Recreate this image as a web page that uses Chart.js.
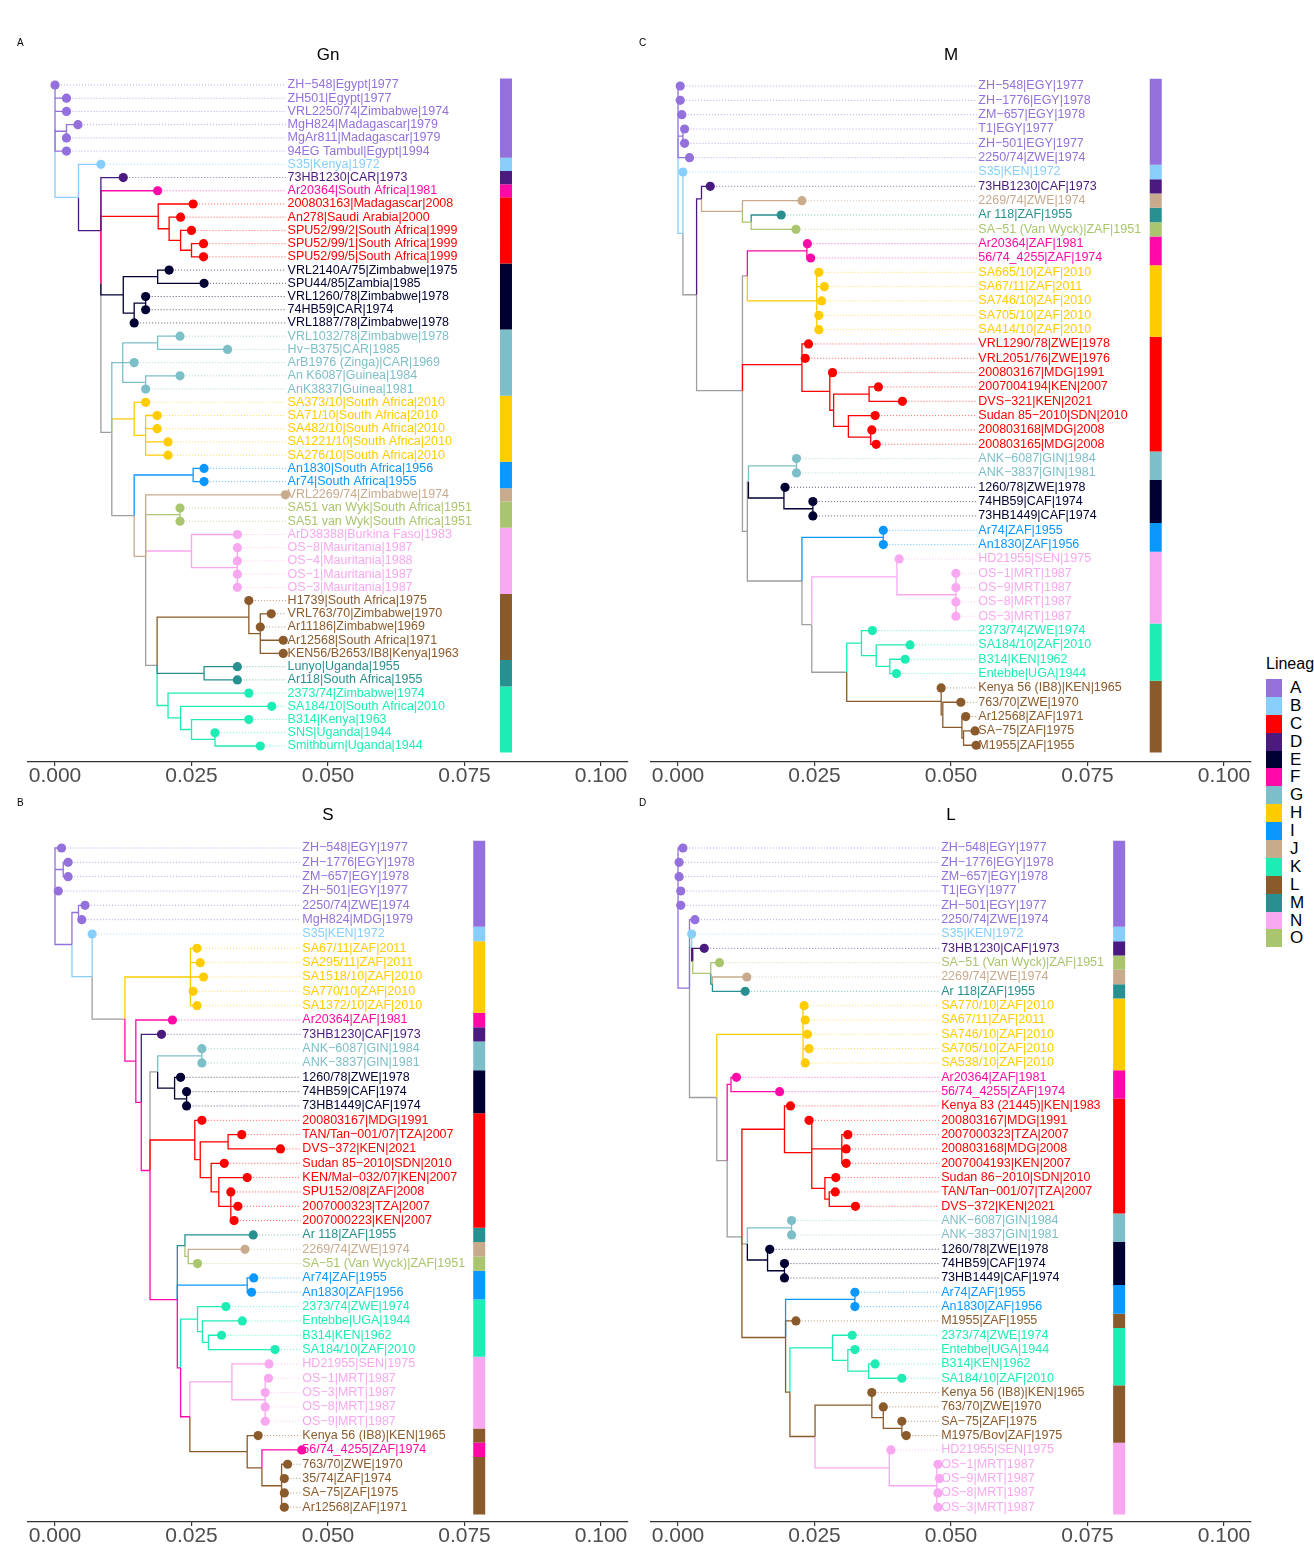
<!DOCTYPE html>
<html>
<head>
<meta charset="utf-8">
<script src="https://cdn.jsdelivr.net/npm/chart.js@4.4.1/dist/chart.umd.min.js"></script>
<style>
  body { margin: 0; background: #fff; }
  #page { position: relative; width: 1314px; height: 1546px; overflow: hidden; background: #fff;
          font-family: "Liberation Sans", Arial, sans-serif; }
  #page canvas { position: absolute; }
  .tag { position: absolute; font-size: 10px; color: #000; }
  #legend { position: absolute; left: 1266px; top: 655px; white-space: nowrap; }
  #legend .lt { font-size: 16px; color: #000; margin-bottom: 6px; }
  #legend .key { height: 17.9px; display: flex; align-items: center; }
  #legend .sw { width: 16px; height: 17.9px; margin-right: 8px; }
  #legend .lb { font-size: 17px; color: #000; }
</style>
</head>
<body>
<div id="page">
  <canvas id="cGn" width="640" height="800" style="left:0;top:0"></canvas>
  <canvas id="cM" width="640" height="800" style="left:623px;top:0"></canvas>
  <canvas id="cS" width="640" height="800" style="left:0;top:760px"></canvas>
  <canvas id="cL" width="640" height="800" style="left:623px;top:760px"></canvas>
  <div class="tag" style="left:17px;top:37px">A</div>
  <div class="tag" style="left:639px;top:37px">C</div>
  <div class="tag" style="left:17px;top:797px">B</div>
  <div class="tag" style="left:639px;top:797px">D</div>
  <div id="legend"><div class="lt">Lineage</div><div id="keys"></div></div>
</div>
<script>
// Lineages
const lineageNames = ['A', 'B', 'C', 'D', 'E', 'F', 'G', 'H', 'I', 'J', 'K', 'L', 'M', 'N', 'O'];
const lineageColors = ['#9370DB', '#87CEFA', '#FF0000', '#4B1A80', '#000033', '#FF0AA8', '#7DBFC8',
    '#FFCC00', '#0A98FF', '#C8AA8C', '#1DEDB5', '#8B5A2B', '#289090', '#F8A8F0', '#A9C56E'];

// Axis
const xTicks = [0, 0.025, 0.05, 0.075, 0.1];
const xTickLabels = ['0.000', '0.025', '0.050', '0.075', '0.100'];

// Panel A : Gn
const gnLabels = ['ZH−548|Egypt|1977', 'ZH501|Egypt|1977', 'VRL2250/74|Zimbabwe|1974', 'MgH824|Madagascar|1979',
    'MgAr811|Madagascar|1979', '94EG Tambul|Egypt|1994', 'S35|Kenya|1972', '73HB1230|CAR|1973',
    'Ar20364|South Africa|1981', '200803163|Madagascar|2008', 'An278|Saudi Arabia|2000',
    'SPU52/99/2|South Africa|1999', 'SPU52/99/1|South Africa|1999', 'SPU52/99/5|South Africa|1999',
    'VRL2140A/75|Zimbabwe|1975', 'SPU44/85|Zambia|1985', 'VRL1260/78|Zimbabwe|1978', '74HB59|CAR|1974',
    'VRL1887/78|Zimbabwe|1978', 'VRL1032/78|Zimbabwe|1978', 'Hv−B375|CAR|1985', 'ArB1976 (Zinga)|CAR|1969',
    'An K6087|Guinea|1984', 'AnK3837|Guinea|1981', 'SA373/10|South Africa|2010', 'SA71/10|South Africa|2010',
    'SA482/10|South Africa|2010', 'SA1221/10|South Africa|2010', 'SA276/10|South Africa|2010',
    'An1830|South Africa|1956', 'Ar74|South Africa|1955', 'VRL2269/74|Zimbabwe|1974',
    'SA51 van Wyk|South Africa|1951', 'SA51 van Wyk|South Africa|1951', 'ArD38388|Burkina Faso|1983',
    'OS−8|Mauritania|1987', 'OS−4|Mauritania|1988', 'OS−1|Mauritania|1987', 'OS−3|Mauritania|1987',
    'H1739|South Africa|1975', 'VRL763/70|Zimbabwe|1970', 'Ar11186|Zimbabwe|1969', 'Ar12568|South Africa|1971',
    'KEN56/B2653/IB8|Kenya|1963', 'Lunyo|Uganda|1955', 'Ar118|South Africa|1955', '2373/74|Zimbabwe|1974',
    'SA184/10|South Africa|2010', 'B314|Kenya|1963', 'SNS|Uganda|1944', 'Smithburn|Uganda|1944'];
const gnLineage = 'AAAAAABDFCCCCCEEEEEGGGGGHHHHHIIJOONNNNNLLLLLMMKKKKK'.split('');
const gnTipX = [0.0000, 0.0021, 0.0021, 0.0042, 0.0021, 0.0021, 0.0084, 0.0125, 0.0188, 0.0253,
    0.0230, 0.0250, 0.0272, 0.0272, 0.0209, 0.0273, 0.0166, 0.0166, 0.0145, 0.0229,
    0.0316, 0.0145, 0.0229, 0.0166, 0.0166, 0.0187, 0.0187, 0.0207, 0.0207, 0.0273,
    0.0273, 0.0422, 0.0229, 0.0229, 0.0334, 0.0334, 0.0334, 0.0334, 0.0334, 0.0355,
    0.0396, 0.0376, 0.0418, 0.0418, 0.0334, 0.0334, 0.0355, 0.0397, 0.0355, 0.0293, 0.0376];
// node = [node depth, ...children]; a number is a tip row
const gnTree = [0.0000, 1, 2, 3, [0.0021, 4, 5], 6,
  [0.0043, 7,
    [0.0084, 8,
      [0.0084, 9,
        [0.0189, 10, [0.0209, 11, [0.0230, 12, [0.0250, 13, 14]]]],
        [0.0125, [0.0188, 15, 16], [0.0145, [0.0166, 17, 18], 19]],
        [0.0104,
          [0.0124, [0.0188, 20, 21], 22, [0.0166, 23, 24]],
          [0.0145, 25, [0.0166, 26, 27, 28, 29]],
          [0.0145,
            [0.0253, 30, 31],
            [0.0166, 32,
              [0.0229, 33, 34],
              [0.0250, 35, [0.0334, 36, 37, 38, 39]],
              [0.0187,
                [0.0355, 40, [0.0376, 41, 42, 43, 44]],
                [0.0273, 45, 46],
                [0.0207, 47, [0.0230, 48, [0.0250, 49, [0.0293, 50, 51]]]]]]]]]]]];

// Panel C : M
const mLabels = ['ZH−548|EGY|1977', 'ZH−1776|EGY|1978', 'ZM−657|EGY|1978', 'T1|EGY|1977', 'ZH−501|EGY|1977',
    '2250/74|ZWE|1974', 'S35|KEN|1972', '73HB1230|CAF|1973', '2269/74|ZWE|1974', 'Ar 118|ZAF|1955',
    'SA−51 (Van Wyck)|ZAF|1951', 'Ar20364|ZAF|1981', '56/74_4255|ZAF|1974', 'SA665/10|ZAF|2010',
    'SA67/11|ZAF|2011', 'SA746/10|ZAF|2010', 'SA705/10|ZAF|2010', 'SA414/10|ZAF|2010', 'VRL1290/78|ZWE|1978',
    'VRL2051/76|ZWE|1976', '200803167|MDG|1991', '2007004194|KEN|2007', 'DVS−321|KEN|2021',
    'Sudan 85−2010|SDN|2010', '200803168|MDG|2008', '200803165|MDG|2008', 'ANK−6087|GIN|1984',
    'ANK−3837|GIN|1981', '1260/78|ZWE|1978', '74HB59|CAF|1974', '73HB1449|CAF|1974', 'Ar74|ZAF|1955',
    'An1830|ZAF|1956', 'HD21955|SEN|1975', 'OS−1|MRT|1987', 'OS−9|MRT|1987', 'OS−8|MRT|1987', 'OS−3|MRT|1987',
    '2373/74|ZWE|1974', 'SA184/10|ZAF|2010', 'B314|KEN|1962', 'Entebbe|UGA|1944', 'Kenya 56 (IB8)|KEN|1965',
    '763/70|ZWE|1970', 'Ar12568|ZAF|1971', 'SA−75|ZAF|1975', 'M1955|ZAF|1955'];
const mLineage = 'AAAAAABDJMOFFHHHHHCCCCCCCCGGEEEIINNNNNKKKKLLLLL'.split('');
const mTipX = [0.0004, 0.0004, 0.0007, 0.0012, 0.0012, 0.0021, 0.0009, 0.0059, 0.0227, 0.0189,
    0.0216, 0.0237, 0.0243, 0.0258, 0.0268, 0.0263, 0.0258, 0.0258, 0.0239, 0.0233,
    0.0283, 0.0367, 0.0411, 0.0361, 0.0355, 0.0363, 0.0217, 0.0217, 0.0196, 0.0247,
    0.0247, 0.0376, 0.0376, 0.0405, 0.0509, 0.0509, 0.0509, 0.0509, 0.0356, 0.0425,
    0.0416, 0.0400, 0.0482, 0.0518, 0.0527, 0.0544, 0.0546];
const mTree = [0.0000, 1, 2, 3, [0.0009, 4, 5], 6,
  [0.0009, 7,
    [0.0034,
      [0.0043, 8, [0.0118, 9, [0.0134, 10, 11]]],
      [0.0118,
        [0.0127, [0.0236, 12, 13], [0.0254, 14, 15, 16, 17, 18]],
        [0.0227, 19, 20, [0.0278, 21, [0.0285, [0.0350, 22, 23], [0.0312, 24, [0.0353, 25, 26]]]]],
        [0.0127,
          [0.0129, [0.0217, 27, 28], [0.0194, 29, [0.0247, 30, 31]]],
          [0.0227,
            [0.0376, 32, 33],
            [0.0245,
              [0.0401, 34, [0.0509, 35, 36, 37, 38]],
              [0.0309,
                [0.0336, 39, [0.0363, 40, [0.0388, 41, 42]]],
                [0.0482, 43, [0.0485, 44, [0.0520, 45, [0.0523, 46, 47]]]]]]]]]]]];

// Panel B : S
const sLabels = ['ZH−548|EGY|1977', 'ZH−1776|EGY|1978', 'ZM−657|EGY|1978', 'ZH−501|EGY|1977', '2250/74|ZWE|1974',
    'MgH824|MDG|1979', 'S35|KEN|1972', 'SA67/11|ZAF|2011', 'SA295/11|ZAF|2011', 'SA1518/10|ZAF|2010',
    'SA770/10|ZAF|2010', 'SA1372/10|ZAF|2010', 'Ar20364|ZAF|1981', '73HB1230|CAF|1973', 'ANK−6087|GIN|1984',
    'ANK−3837|GIN|1981', '1260/78|ZWE|1978', '74HB59|CAF|1974', '73HB1449|CAF|1974', '200803167|MDG|1991',
    'TAN/Tan−001/07|TZA|2007', 'DVS−372|KEN|2021', 'Sudan 85−2010|SDN|2010', 'KEN/Mal−032/07|KEN|2007',
    'SPU152/08|ZAF|2008', '2007000323|TZA|2007', '2007000223|KEN|2007', 'Ar 118|ZAF|1955', '2269/74|ZWE|1974',
    'SA−51 (Van Wyck)|ZAF|1951', 'Ar74|ZAF|1955', 'An1830|ZAF|1956', '2373/74|ZWE|1974', 'Entebbe|UGA|1944',
    'B314|KEN|1962', 'SA184/10|ZAF|2010', 'HD21955|SEN|1975', 'OS−1|MRT|1987', 'OS−3|MRT|1987', 'OS−8|MRT|1987',
    'OS−9|MRT|1987', 'Kenya 56 (IB8)|KEN|1965', '56/74_4255|ZAF|1974', '763/70|ZWE|1970', '35/74|ZAF|1974',
    'SA−75|ZAF|1975', 'Ar12568|ZAF|1971'];
const sLineage = 'AAAAAABHHHHHFDGGEEECCCCCCCCMJOIIKKKKNNNNNLFLLLL'.split('');
const sTipX = [0.0012, 0.0024, 0.0024, 0.0006, 0.0055, 0.0049, 0.0068, 0.0260, 0.0266, 0.0272,
    0.0253, 0.0260, 0.0215, 0.0195, 0.0269, 0.0269, 0.0230, 0.0241, 0.0241, 0.0269,
    0.0342, 0.0413, 0.0310, 0.0352, 0.0322, 0.0335, 0.0328, 0.0363, 0.0348, 0.0261,
    0.0364, 0.0360, 0.0313, 0.0343, 0.0305, 0.0403, 0.0392, 0.0391, 0.0385, 0.0385,
    0.0385, 0.0372, 0.0452, 0.0426, 0.0420, 0.0420, 0.0420];
const sTree = [0.0000, 1, [0.0015, 2, 3], 4,
  [0.0031,
    [0.0043, 5, 6],
    [0.0068, 7,
      [0.0128,
        [0.0248, 8, 9, 10, 11, 12],
        [0.0148, 13,
          [0.0158, 14,
            [0.0174,
              [0.0188, [0.0269, 15, 16], [0.0219, 17, [0.0241, 18, 19]]],
              [0.0256, 20, [0.0266, [0.0317, 21, 22], [0.0286, 23, [0.0300, 24, [0.0322, 25, 26, 27]]]]],
              [0.0224,
                [0.0238, 28, [0.0244, 29, 30]],
                [0.0352, 31, 32],
                [0.0230,
                  [0.0261, 33, [0.0270, 34, [0.0281, 35, 36]]],
                  [0.0247,
                    [0.0324, 37, [0.0385, 38, 39, 40, 41]],
                    [0.0352, 42, [0.0379, 43, [0.0415, 44, 45, 46, 47]]]]]]]]]]]]];

// Panel D : L
const lLabels = ['ZH−548|EGY|1977', 'ZH−1776|EGY|1978', 'ZM−657|EGY|1978', 'T1|EGY|1977', 'ZH−501|EGY|1977',
    '2250/74|ZWE|1974', 'S35|KEN|1972', '73HB1230|CAF|1973', 'SA−51 (Van Wyck)|ZAF|1951', '2269/74|ZWE|1974',
    'Ar 118|ZAF|1955', 'SA770/10|ZAF|2010', 'SA67/11|ZAF|2011', 'SA746/10|ZAF|2010', 'SA705/10|ZAF|2010',
    'SA538/10|ZAF|2010', 'Ar20364|ZAF|1981', '56/74_4255|ZAF|1974', 'Kenya 83 (21445)|KEN|1983',
    '200803167|MDG|1991', '2007000323|TZA|2007', '200803168|MDG|2008', '2007004193|KEN|2007',
    'Sudan 86−2010|SDN|2010', 'TAN/Tan−001/07|TZA|2007', 'DVS−372|KEN|2021', 'ANK−6087|GIN|1984',
    'ANK−3837|GIN|1981', '1260/78|ZWE|1978', '74HB59|CAF|1974', '73HB1449|CAF|1974', 'Ar74|ZAF|1955',
    'An1830|ZAF|1956', 'M1955|ZAF|1955', '2373/74|ZWE|1974', 'Entebbe|UGA|1944', 'B314|KEN|1962',
    'SA184/10|ZAF|2010', 'Kenya 56 (IB8)|KEN|1965', '763/70|ZWE|1970', 'SA−75|ZAF|1975', 'M1975/Bov|ZAF|1975',
    'HD21955|SEN|1975', 'OS−1|MRT|1987', 'OS−9|MRT|1987', 'OS−8|MRT|1987', 'OS−3|MRT|1987'];
const lLineage = 'AAAAAABDOJMHHHHHFFCCCCCCCCGGEEEIILKKKKLLLLNNNNN'.split('');
const lTipX = [0.0009, 0.0002, 0.0002, 0.0005, 0.0005, 0.0031, 0.0025, 0.0048, 0.0076, 0.0126,
    0.0123, 0.0231, 0.0233, 0.0237, 0.0240, 0.0233, 0.0107, 0.0186, 0.0206, 0.0240,
    0.0311, 0.0308, 0.0308, 0.0289, 0.0288, 0.0325, 0.0208, 0.0208, 0.0168, 0.0195,
    0.0195, 0.0324, 0.0324, 0.0216, 0.0319, 0.0324, 0.0361, 0.0410, 0.0355, 0.0376,
    0.0410, 0.0418, 0.0390, 0.0476, 0.0479, 0.0476, 0.0476];
const lTree = [0.0000, 1, 2, 3, 4, 5,
  [0.0021, 6,
    [0.0025, 7, [0.0027, 8, [0.0060, 9, [0.0063, 10, 11]]]],
    [0.0071,
      [0.0229, 12, 13, 14, 15, 16],
      [0.0090,
        [0.0097, 17, 18],
        [0.0117,
          [0.0195, 19, [0.0245, 20, [0.0300, 21, 22, 23], [0.0269, 24, [0.0277, 25, 26]]]],
          [0.0127, [0.0208, 27, 28], [0.0164, 29, [0.0195, 30, 31]]],
          [0.0197,
            [0.0324, 32, 33],
            34,
            [0.0205,
              [0.0283, 35, [0.0311, 36, [0.0349, 37, 38]]],
              [0.0251,
                [0.0355, 39, [0.0376, 40, [0.0410, 41, 42]]],
                [0.0387, 43, [0.0474, 44, 45, 46, 47]]]]]]]]]];

const GRAY = '#9E9E9E';
const FONT = '"Liberation Sans", Arial, sans-serif';

function colorOf(l) { return lineageColors[lineageNames.indexOf(l)]; }

function fade(hex, a) {
    const n = parseInt(hex.slice(1), 16);
    return `rgba(${n >> 16},${(n >> 8) & 255},${n & 255},${a})`;
}

// rectangular layout (node y = mean of children) + groupOTU-like branch colouring
function treeEdges(tree, tipX, lineage) {
    const nodes = [];
    function walk(node, parent) {
        const n = { parent };
        nodes.push(n);
        if (typeof node === 'number') {
            n.x = tipX[node - 1]; n.y = node; n.tip = node;
        } else {
            n.x = node[0];
            n.kids = node.slice(1).map(c => walk(c, n));
            n.y = n.kids.reduce((s, k) => s + k.y, 0) / n.kids.length;
        }
        return n;
    }
    walk(tree, null);

    const ancestors = n => { const a = []; while (n) { a.push(n); n = n.parent; } return a; };
    lineageNames.forEach(l => {
        const tips = nodes.filter(n => n.tip && lineage[n.tip - 1] === l);
        if (!tips.length) return;
        let mark = [];
        if (tips.length === 1) {
            mark = [tips[0], tips[0].parent];
        } else {
            const lists = tips.map(ancestors);
            const mrca = lists[0].find(a => lists.every(L => L.includes(a)));
            tips.forEach(t => { let n = t; while (n && n !== mrca) { mark.push(n); n = n.parent; } });
            mark.push(mrca);
        }
        mark.forEach(n => { if (n) n.group = l; });
    });

    return nodes.filter(n => n.parent).map(n => ({
        x0: n.parent.x, y0: n.parent.y, x1: n.x, y1: n.y,
        color: n.group ? colorOf(n.group) : GRAY
    }));
}

function buildPanel(id, p) {
    const edges = treeEdges(p.tree, p.tipX, p.lineage);
    const byColor = {};
    edges.forEach(e => {
        (byColor[e.color] = byColor[e.color] || []).push(
            { x: e.x0, y: e.y0 }, { x: e.x0, y: e.y1 }, { x: e.x1, y: e.y1 }, { x: null, y: null });
    });

    const datasets = [];
    Object.keys(byColor).forEach(c => {
        datasets.push({
            data: byColor[c], showLine: true, borderColor: c, borderWidth: 1.3,
            pointRadius: 0, spanGaps: false, order: c === GRAY ? 4 : 3
        });
    });

    // dotted leaders and the lineage bar, one dataset per colour
    const dots = {}, bar = {};
    p.labels.forEach((t, i) => {
        const c = colorOf(p.lineage[i]);
        (dots[c] = dots[c] || []).push({ x: p.tipX[i], y: i + 1 }, { x: p.labelX - 0.0003, y: i + 1 }, { x: null, y: null });
        (bar[c] = bar[c] || []).push({ x: p.barX, y: i + 0.5 }, { x: p.barX, y: i + 1.5 }, { x: null, y: null });
    });
    Object.keys(dots).forEach(c => {
        datasets.push({
            data: dots[c], showLine: true, borderColor: fade(c, 0.65), borderWidth: 1,
            borderDash: [1, 2], pointRadius: 0, spanGaps: false, order: 5
        });
        datasets.push({
            data: bar[c], showLine: true, borderColor: c, borderWidth: 12, borderCapStyle: 'butt',
            pointRadius: 0, spanGaps: false, order: 6
        });
    });

    // tip points
    datasets.push({
        data: p.tipX.map((x, i) => ({ x, y: i + 1 })),
        pointRadius: 4.6, pointHoverRadius: 4.6, borderWidth: 0,
        pointBackgroundColor: p.lineage.map(colorOf), order: 1
    });

    const textPlugin = {
        id: 'tipText' + id,
        afterDatasetsDraw(chart) {
            const { ctx, chartArea } = chart;
            const xs = chart.scales.x, ys = chart.scales.y;
            ctx.save();
            ctx.font = '12.5px ' + FONT;
            ctx.textBaseline = 'middle';
            ctx.textAlign = 'left';
            const lx = xs.getPixelForValue(p.labelX);
            p.labels.forEach((t, i) => {
                ctx.fillStyle = colorOf(p.lineage[i]);
                ctx.fillText(t, lx, ys.getPixelForValue(i + 1));
            });
            ctx.font = '17px ' + FONT;
            ctx.fillStyle = '#000';
            ctx.textAlign = 'center';
            ctx.fillText(p.title, (chartArea.left + chartArea.right) / 2, chartArea.top - 15);
            ctx.restore();
        }
    };

    new Chart(document.getElementById(id), {
        type: 'scatter',
        data: { datasets },
        options: {
            responsive: false,
            animation: false,
            events: [],
            layout: { padding: { left: 28, right: 12, top: 70, bottom: 0 }, autoPadding: false },
            plugins: { legend: { display: false }, tooltip: { enabled: false }, title: { display: false } },
            scales: {
                x: {
                    type: 'linear', min: -0.00495, max: 0.10495,
                    afterBuildTicks: s => { s.ticks = xTicks.map(v => ({ value: v })); },
                    afterFit: s => { s.height = 38; },
                    ticks: {
                        autoSkip: false, maxRotation: 0, padding: 0, color: '#4D4D4D',
                        font: { size: 21, family: FONT, lineHeight: 1 },
                        callback: (v, i) => xTickLabels[i]
                    },
                    grid: { display: true, drawOnChartArea: false, drawTicks: true, tickLength: 4, color: '#333', lineWidth: 1.2 },
                    border: { display: true, color: '#333', width: 1.3 }
                },
                y: { type: 'linear', display: false, reverse: true, min: p.yMin, max: p.yMax }
            }
        },
        plugins: [textPlugin]
    });
}

buildPanel('cGn', { title: 'Gn', tree: gnTree, tipX: gnTipX, labels: gnLabels, lineage: gnLineage,
    labelX: 0.0426, barX: 0.0826, yMin: -0.135, yMax: 52.21 });
buildPanel('cM', { title: 'M', tree: mTree, tipX: mTipX, labels: mLabels, lineage: mLineage,
    labelX: 0.0550, barX: 0.0875, yMin: -0.117, yMax: 48.17 });
buildPanel('cS', { title: 'S', tree: sTree, tipX: sTipX, labels: sLabels, lineage: sLineage,
    labelX: 0.0453, barX: 0.0777, yMin: -0.256, yMax: 48.03 });
buildPanel('cL', { title: 'L', tree: lTree, tipX: lTipX, labels: lLabels, lineage: lLineage,
    labelX: 0.0482, barX: 0.0808, yMin: -0.256, yMax: 48.03 });

// legend
const keys = document.getElementById('keys');
lineageNames.forEach((n, i) => {
    const row = document.createElement('div');
    row.className = 'key';
    row.innerHTML = `<div class="sw" style="background:${lineageColors[i]}"></div><span class="lb">${n}</span>`;
    keys.appendChild(row);
});
</script>
</body>
</html>
